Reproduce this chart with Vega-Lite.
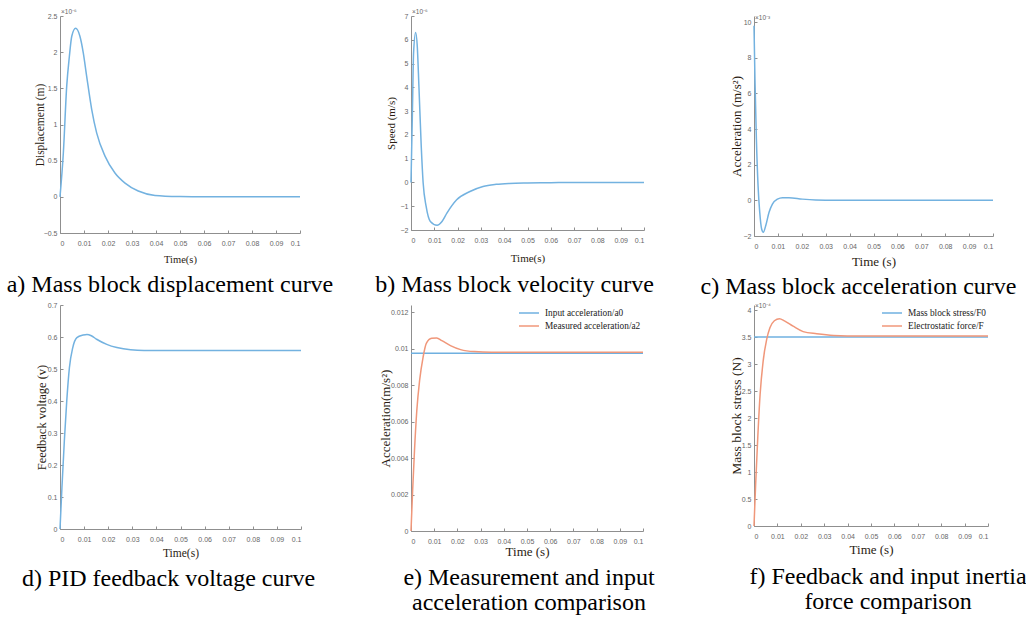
{
  "$schema": "https://vega.github.io/schema/vega-lite/v6.json",
  "background": "white",
  "padding": {"left": 6, "top": 9, "right": 0, "bottom": 0},
  "bounds": "flush",
  "align": "none",
  "columns": 3,
  "spacing": {"row": 69, "column": 110},
  "resolve": {"scale": {"color": "independent"}, "legend": {"color": "independent"}},
  "datasets": {
    "a": [
      {"t": 0, "v": 0}, {"t": 0.0014, "v": 0.61}, {"t": 0.0028, "v": 1.53}, {"t": 0.0039, "v": 1.94},
      {"t": 0.0049, "v": 2.22}, {"t": 0.0065, "v": 2.33}, {"t": 0.0083, "v": 2.22}, {"t": 0.0097, "v": 1.99},
      {"t": 0.0111, "v": 1.67}, {"t": 0.0132, "v": 1.21}, {"t": 0.0153, "v": 0.88}, {"t": 0.0188, "v": 0.56},
      {"t": 0.0229, "v": 0.33}, {"t": 0.0271, "v": 0.19}, {"t": 0.0326, "v": 0.08}, {"t": 0.0396, "v": 0.02},
      {"t": 0.05, "v": 0.004}, {"t": 0.06, "v": 0}, {"t": 0.07, "v": 0}, {"t": 0.08, "v": 0}, {"t": 0.09, "v": 0}, {"t": 0.1, "v": 0}
    ],
    "b": [
      {"t": 0, "v": 0}, {"t": 0.0006, "v": 2.92}, {"t": 0.0011, "v": 5.44}, {"t": 0.002, "v": 6.31},
      {"t": 0.0027, "v": 5.72}, {"t": 0.0034, "v": 4.04}, {"t": 0.0044, "v": 1.51}, {"t": 0.0052, "v": 0},
      {"t": 0.0065, "v": -1.01}, {"t": 0.0083, "v": -1.64}, {"t": 0.0112, "v": -1.8}, {"t": 0.0133, "v": -1.64},
      {"t": 0.0154, "v": -1.29}, {"t": 0.0196, "v": -0.73}, {"t": 0.0253, "v": -0.38}, {"t": 0.0309, "v": -0.17},
      {"t": 0.0366, "v": -0.08}, {"t": 0.0422, "v": -0.04}, {"t": 0.05, "v": -0.02}, {"t": 0.06, "v": -0.01},
      {"t": 0.07, "v": 0}, {"t": 0.08, "v": 0}, {"t": 0.09, "v": 0}, {"t": 0.1, "v": 0}
    ],
    "c": [
      {"t": 0, "v": 9.8}, {"t": 0.0004, "v": 6.8}, {"t": 0.001, "v": 3.44}, {"t": 0.0017, "v": 0.82},
      {"t": 0.0024, "v": -0.67}, {"t": 0.0032, "v": -1.61}, {"t": 0.0039, "v": -1.79}, {"t": 0.0049, "v": -1.42},
      {"t": 0.0063, "v": -0.67}, {"t": 0.0077, "v": -0.21}, {"t": 0.0098, "v": 0.07}, {"t": 0.0119, "v": 0.15},
      {"t": 0.0146, "v": 0.15}, {"t": 0.0202, "v": 0.07}, {"t": 0.0258, "v": 0.02}, {"t": 0.034, "v": 0},
      {"t": 0.05, "v": 0}, {"t": 0.07, "v": 0}, {"t": 0.1, "v": 0}
    ],
    "d": [
      {"t": 0, "v": 0}, {"t": 0.0008, "v": 0.129}, {"t": 0.0018, "v": 0.275}, {"t": 0.0028, "v": 0.4},
      {"t": 0.0039, "v": 0.504}, {"t": 0.0053, "v": 0.567}, {"t": 0.007, "v": 0.598}, {"t": 0.0096, "v": 0.606},
      {"t": 0.0112, "v": 0.608}, {"t": 0.013, "v": 0.604}, {"t": 0.0152, "v": 0.593}, {"t": 0.0194, "v": 0.577},
      {"t": 0.0236, "v": 0.567}, {"t": 0.0293, "v": 0.56}, {"t": 0.0349, "v": 0.558}, {"t": 0.0433, "v": 0.558},
      {"t": 0.06, "v": 0.558}, {"t": 0.08, "v": 0.558}, {"t": 0.1, "v": 0.558}
    ],
    "e": [
      {"t": 0, "v": 0.00974, "s": "Input acceleration/a0"}, {"t": 0.1, "v": 0.00974, "s": "Input acceleration/a0"},
      {"t": 0, "v": 0, "s": "Measured acceleration/a2"}, {"t": 0.0007, "v": 0.00221, "s": "Measured acceleration/a2"},
      {"t": 0.0015, "v": 0.0044, "s": "Measured acceleration/a2"}, {"t": 0.0025, "v": 0.0066, "s": "Measured acceleration/a2"},
      {"t": 0.0037, "v": 0.00824, "s": "Measured acceleration/a2"}, {"t": 0.0052, "v": 0.00952, "s": "Measured acceleration/a2"},
      {"t": 0.0066, "v": 0.01028, "s": "Measured acceleration/a2"}, {"t": 0.0089, "v": 0.01056, "s": "Measured acceleration/a2"},
      {"t": 0.0111, "v": 0.01058, "s": "Measured acceleration/a2"}, {"t": 0.0133, "v": 0.01043, "s": "Measured acceleration/a2"},
      {"t": 0.017, "v": 0.01016, "s": "Measured acceleration/a2"}, {"t": 0.0214, "v": 0.00994, "s": "Measured acceleration/a2"},
      {"t": 0.0273, "v": 0.00983, "s": "Measured acceleration/a2"}, {"t": 0.0347, "v": 0.0098, "s": "Measured acceleration/a2"},
      {"t": 0.0465, "v": 0.0098, "s": "Measured acceleration/a2"}, {"t": 0.06, "v": 0.0098, "s": "Measured acceleration/a2"},
      {"t": 0.08, "v": 0.0098, "s": "Measured acceleration/a2"}, {"t": 0.1, "v": 0.0098, "s": "Measured acceleration/a2"}
    ],
    "f": [
      {"t": 0, "v": 3.5, "s": "Mass block stress/F0"}, {"t": 0.1, "v": 3.5, "s": "Mass block stress/F0"},
      {"t": 0, "v": 0, "s": "Electrostatic force/F"}, {"t": 0.0007, "v": 0.77, "s": "Electrostatic force/F"},
      {"t": 0.0016, "v": 1.63, "s": "Electrostatic force/F"}, {"t": 0.0026, "v": 2.43, "s": "Electrostatic force/F"},
      {"t": 0.0039, "v": 3.05, "s": "Electrostatic force/F"}, {"t": 0.0054, "v": 3.45, "s": "Electrostatic force/F"},
      {"t": 0.0068, "v": 3.67, "s": "Electrostatic force/F"}, {"t": 0.0087, "v": 3.8, "s": "Electrostatic force/F"},
      {"t": 0.0109, "v": 3.84, "s": "Electrostatic force/F"}, {"t": 0.013, "v": 3.8, "s": "Electrostatic force/F"},
      {"t": 0.0167, "v": 3.7, "s": "Electrostatic force/F"}, {"t": 0.021, "v": 3.6, "s": "Electrostatic force/F"},
      {"t": 0.0268, "v": 3.56, "s": "Electrostatic force/F"}, {"t": 0.034, "v": 3.53, "s": "Electrostatic force/F"},
      {"t": 0.0457, "v": 3.52, "s": "Electrostatic force/F"}, {"t": 0.06, "v": 3.52, "s": "Electrostatic force/F"},
      {"t": 0.08, "v": 3.52, "s": "Electrostatic force/F"}, {"t": 0.1, "v": 3.52, "s": "Electrostatic force/F"}
    ]
  },
  "concat": [
    {
      "width": 240, "height": 217,
      "title": {"text": "a) Mass block displacement curve", "dx": -10, "offset": 8},
      "encoding": {
        "x": {"field": "t", "type": "quantitative", "scale": {"domain": [0, 0.1], "nice": false},
              "axis": {"values": [0, 0.01, 0.02, 0.03, 0.04, 0.05, 0.06, 0.07, 0.08, 0.09, 0.1], "format": ".2~f", "title": "Time(s)", "titleFontSize": 10.5, "titlePadding": 8}},
        "y": {"field": "v", "type": "quantitative", "scale": {"domain": [-0.5, 2.5], "nice": false, "zero": false},
              "axis": {"values": [-0.5, 0, 0.5, 1, 1.5, 2, 2.5], "format": "~g", "title": "Displacement (m)", "titleFontSize": 11.5, "titlePadding": -2}}
      },
      "layer": [
        {"data": {"name": "a"}, "mark": "line"},
        {"data": {"values": [{"t": 0, "v": 2.5, "label": "×10⁻⁶"}]}, "mark": "text", "encoding": {"text": {"field": "label"}}}
      ]
    },
    {
      "width": 233, "height": 214,
      "title": {"text": "b) Mass block velocity curve", "dx": -13, "offset": 10},
      "encoding": {
        "x": {"field": "t", "type": "quantitative", "scale": {"domain": [0, 0.1], "nice": false},
              "axis": {"values": [0, 0.01, 0.02, 0.03, 0.04, 0.05, 0.06, 0.07, 0.08, 0.09, 0.1], "format": ".2~f", "title": "Time(s)", "titleFontSize": 11, "titlePadding": 9}},
        "y": {"field": "v", "type": "quantitative", "scale": {"domain": [-2, 7], "nice": false, "zero": false},
              "axis": {"values": [-2, -1, 0, 1, 2, 3, 4, 5, 6, 7], "format": "~g", "title": "Speed (m/s)", "titleFontSize": 11, "titlePadding": 4}}
      },
      "layer": [
        {"data": {"name": "b"}, "mark": "line"},
        {"data": {"values": [{"t": 0, "v": 7, "label": "×10⁻⁶"}]}, "mark": "text", "encoding": {"text": {"field": "label"}}}
      ]
    },
    {
      "width": 239, "height": 220,
      "title": {"text": "c) Mass block acceleration curve", "dx": -15, "offset": 7},
      "encoding": {
        "x": {"field": "t", "type": "quantitative", "scale": {"domain": [0, 0.1], "nice": false},
              "axis": {"values": [0, 0.01, 0.02, 0.03, 0.04, 0.05, 0.06, 0.07, 0.08, 0.09, 0.1], "format": ".2~f", "title": "Time (s)", "titleFontSize": 13, "titlePadding": 6}},
        "y": {"field": "v", "type": "quantitative", "scale": {"domain": [-2, 10.35], "nice": false, "zero": false},
              "axis": {"values": [-2, 0, 2, 4, 6, 8, 10], "format": ".0f", "title": "Acceleration (m/s²)", "titleFontSize": 13, "titlePadding": 0}}
      },
      "layer": [
        {"data": {"name": "c"}, "mark": "line"},
        {"data": {"values": [{"t": 0, "v": 10, "label": "×10⁻³"}]}, "mark": "text", "encoding": {"text": {"field": "label"}}}
      ]
    },
    {
      "width": 241, "height": 224,
      "title": {"text": "d) PID feedback voltage curve", "dx": -12, "offset": 8},
      "encoding": {
        "x": {"field": "t", "type": "quantitative", "scale": {"domain": [0, 0.1], "nice": false},
              "axis": {"values": [0, 0.01, 0.02, 0.03, 0.04, 0.05, 0.06, 0.07, 0.08, 0.09, 0.1], "format": ".2~f", "title": "Time(s)", "titleFontSize": 11.5, "titlePadding": 5}},
        "y": {"field": "v", "type": "quantitative", "scale": {"domain": [0, 0.7], "nice": false},
              "axis": {"values": [0, 0.1, 0.2, 0.3, 0.4, 0.5, 0.6, 0.7], "format": "~g", "title": "Feedback voltage (v)", "titleFontSize": 12.5, "titlePadding": -1}}
      },
      "layer": [
        {"data": {"name": "d"}, "mark": "line"}
      ]
    },
    {
      "width": 232, "height": 226,
      "title": {"text": ["e) Measurement and input", "acceleration comparison"], "dx": 2, "offset": 8},
      "encoding": {
        "x": {"field": "t", "type": "quantitative", "scale": {"domain": [0, 0.1], "nice": false},
              "axis": {"values": [0, 0.01, 0.02, 0.03, 0.04, 0.05, 0.06, 0.07, 0.08, 0.09, 0.1], "format": ".2~f", "title": "Time  (s)", "titleFontSize": 13, "titlePadding": 1}},
        "y": {"field": "v", "type": "quantitative", "scale": {"domain": [0, 0.012384], "nice": false},
              "axis": {"values": [0, 0.002, 0.004, 0.006, 0.008, 0.01, 0.012], "format": "~g", "title": "Acceleration(m/s²)", "titleFontSize": 13, "titlePadding": -2}}
      },
      "layer": [
        {
          "data": {"name": "e"},
          "mark": "line",
          "encoding": {
            "color": {"field": "s", "type": "nominal", "sort": null,
                      "scale": {"domain": ["Input acceleration/a0", "Measured acceleration/a2"], "range": ["#6fb0e0", "#f0977a"]}}
          }
        }
      ]
    },
    {
      "width": 234, "height": 221,
      "title": {"text": ["f) Feedback and input inertia", "force comparison"], "dx": 17, "offset": 9},
      "encoding": {
        "x": {"field": "t", "type": "quantitative", "scale": {"domain": [0, 0.1], "nice": false},
              "axis": {"values": [0, 0.01, 0.02, 0.03, 0.04, 0.05, 0.06, 0.07, 0.08, 0.09, 0.1], "format": ".2~f", "title": "Time (s)", "titleFontSize": 13, "titlePadding": 4}},
        "y": {"field": "v", "type": "quantitative", "scale": {"domain": [0, 4.0926], "nice": false},
              "axis": {"values": [0, 0.5, 1, 1.5, 2, 2.5, 3, 3.5, 4], "format": "~g", "title": "Mass block stress (N)", "titleFontSize": 13.5, "titlePadding": -2}}
      },
      "layer": [
        {
          "data": {"name": "f"},
          "mark": "line",
          "encoding": {
            "color": {"field": "s", "type": "nominal", "sort": null,
                      "scale": {"domain": ["Mass block stress/F0", "Electrostatic force/F"], "range": ["#6fb0e0", "#f0977a"]}}
          }
        },
        {"data": {"values": [{"t": 0, "v": 4, "label": "×10⁻⁴"}]}, "mark": "text", "encoding": {"text": {"field": "label"}}}
      ]
    }
  ],
  "config": {
    "view": {"stroke": null},
    "axis": {
      "grid": false,
      "domainColor": "#8f8f8f",
      "tickColor": "#8f8f8f",
      "tickSize": -3,
      "labelPadding": 6,
      "labelOverlap": false,
      "labelColor": "#666666",
      "labelFont": "Liberation Sans",
      "labelFontSize": 7,
      "titleFont": "Liberation Serif",
      "titleFontWeight": "normal",
      "titleColor": "#2a1c12"
    },
    "axisX": {"labelPadding": 9},
    "line": {"color": "#73b2e0", "strokeWidth": 1.5, "interpolate": "monotone"},
    "text": {"font": "Liberation Sans", "fontSize": 6.5, "color": "#666666", "align": "left", "baseline": "bottom", "dx": 1, "dy": -1},
    "legend": {
      "orient": "top-right",
      "title": null,
      "symbolType": "M-2,0H2",
      "symbolSize": 100,
      "symbolStrokeWidth": 1.5,
      "labelFont": "Liberation Serif",
      "labelFontSize": 9.3,
      "labelColor": "#222222",
      "rowPadding": 1,
      "offset": 2,
      "padding": 0,
      "labelOffset": 10
    },
    "title": {
      "orient": "bottom",
      "anchor": "middle",
      "frame": "group",
      "font": "Liberation Serif",
      "fontSize": 24,
      "fontWeight": "normal",
      "color": "#000000",
      "baseline": "alphabetic",
      "offset": 30,
      "lineHeight": 25
    }
  }
}
